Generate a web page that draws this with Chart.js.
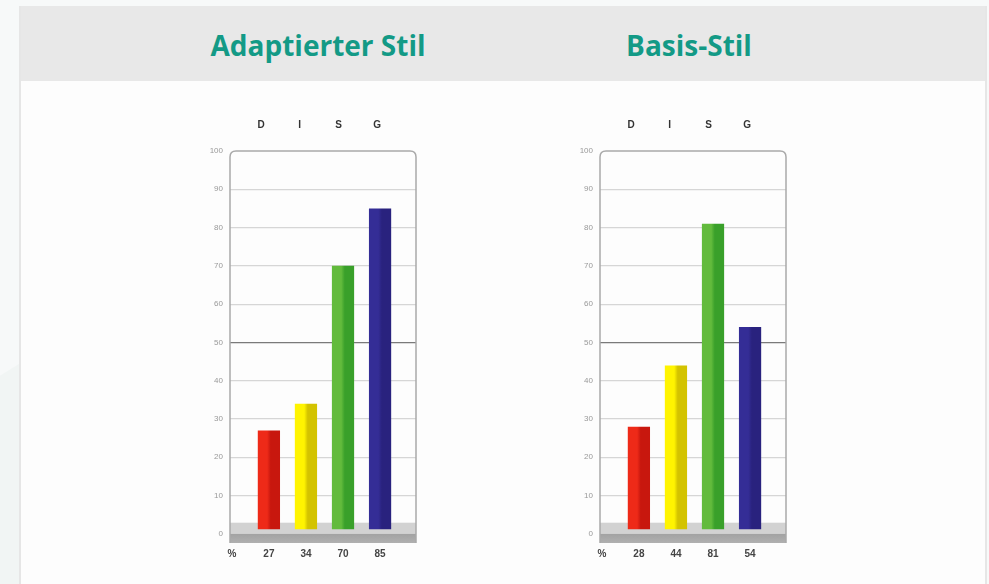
<!DOCTYPE html>
<html>
<head>
<meta charset="utf-8">
<script src="https://cdn.jsdelivr.net/npm/chart.js@4/dist/chart.umd.min.js"></script>
<style>
  html, body { margin:0; padding:0; }
  body { width:989px; height:584px; background:#f7f9f9; position:relative; overflow:hidden; font-family:"Open Sans", "Liberation Sans", sans-serif; }
  #blob { position:absolute; left:-200px; top:300px; width:900px; height:900px; border-radius:50%; background:#f1f5f4; }
  #panel { position:absolute; left:19px; top:6px; width:964px; height:600px; background:#fdfdfd; border-left:2px solid #e6e6e6; border-right:2px solid #e6e6e6; }
  #header { position:absolute; left:0; top:0; width:964px; height:75px; background:#e8e8e8; }
  .ttl { position:absolute; top:21px; font-weight:700; font-size:28px; line-height:36px; color:#139a86; transform:translateX(-50%); white-space:nowrap; }
  canvas { position:absolute; }
</style>
</head>
<body>
<div id="blob"></div>
<div id="panel"><div id="header">
  <div class="ttl" style="left:297px">Adaptierter Stil</div>
  <div class="ttl" style="left:668px">Basis-Stil</div>
</div></div>
<canvas id="c1" width="240" height="468" style="left:190px;top:100px;width:240px;height:468px"></canvas>
<canvas id="c2" width="240" height="468" style="left:560px;top:100px;width:240px;height:468px"></canvas>
<script>
const categories = ['D', 'I', 'S', 'G'];
const adaptedValues = [27, 34, 70, 85];
const basisValues = [28, 44, 81, 54];
const yTickValues = [0, 10, 20, 30, 40, 50, 60, 70, 80, 90, 100];
const unitLabel = '%';

const barShades = [
  ['#ee2a18', '#c8170e'],
  ['#fff400', '#d3c300'],
  ['#62bb3c', '#39a02a'],
  ['#342d96', '#29227e']
];

const decorPlugin = {
  id: 'decor',
  beforeDatasetsDraw(chart) {
    const { ctx, chartArea: a, scales: { y } } = chart;
    ctx.save();
    const y0 = y.getPixelForValue(0);
    const yb = y.getPixelForValue(2.9);
    ctx.fillStyle = '#d2d2d2';
    ctx.fillRect(a.left, yb, a.right - a.left, y0 - yb);
    const g = ctx.createLinearGradient(0, y0, 0, a.bottom);
    g.addColorStop(0, '#a2a2a2');
    g.addColorStop(1, '#b0b0b0');
    ctx.fillStyle = g;
    ctx.fillRect(a.left, y0, a.right - a.left, a.bottom - y0);
    ctx.restore();
  },
  afterDraw(chart) {
    const { ctx, chartArea: a } = chart;
    const r = 6;
    ctx.save();
    ctx.strokeStyle = '#a9a9a9';
    ctx.lineWidth = 1.5;
    ctx.beginPath();
    ctx.moveTo(a.left, a.bottom);
    ctx.lineTo(a.left, a.top + r);
    ctx.quadraticCurveTo(a.left, a.top, a.left + r, a.top);
    ctx.lineTo(a.right - r, a.top);
    ctx.quadraticCurveTo(a.right, a.top, a.right, a.top + r);
    ctx.lineTo(a.right, a.bottom);
    ctx.stroke();
    ctx.restore();
  }
};

function makeChart(id, values) {
  const ctx = document.getElementById(id).getContext('2d');
  return new Chart(ctx, {
    type: 'bar',
    data: {
      datasets: [{
        data: values.map((v, i) => ({ x: i, y: v })),
        base: 1.2,
        categoryPercentage: 1,
        barPercentage: 0.6,
        borderWidth: 0,
        backgroundColor(c) {
          const chart = c.chart;
          const s = barShades[c.dataIndex % 4];
          const xs = chart.scales.x;
          if (!xs || !c.parsed || c.parsed.x === undefined) return s[0];
          const cx = xs.getPixelForValue(c.parsed.x);
          const hw = (xs.getPixelForValue(1) - xs.getPixelForValue(0)) * 0.3;
          if (!Number.isFinite(cx) || !Number.isFinite(hw) || hw <= 0) return s[0];
          const g = chart.ctx.createLinearGradient(cx - hw, 0, cx + hw, 0);
          g.addColorStop(0, s[0]);
          g.addColorStop(0.42, s[0]);
          g.addColorStop(0.58, s[1]);
          g.addColorStop(1, s[1]);
          return g;
        }
      }]
    },
    options: {
      responsive: false,
      animation: false,
      devicePixelRatio: 1,
      layout: { padding: { left: 0, right: 14, top: 0, bottom: 0 } },
      plugins: { legend: { display: false }, tooltip: { enabled: false }, title: { display: false } },
      scales: {
        x: {
          type: 'linear',
          position: 'bottom',
          offset: false,
          min: -1.05,
          max: 3.97,
          grid: { display: false, drawTicks: false, offset: false },
          border: { display: false },
          afterBuildTicks(s) { s.ticks = [-1].concat(values.map((v, i) => i)).map(v => ({ value: v })); },
          afterFit(s) { s.height = 25; },
          ticks: {
            autoSkip: false, maxRotation: 0, padding: 5,
            color: '#444', font: { family: 'Liberation Sans', size: 10, weight: 'bold' },
            callback(v) { return v < 0 ? unitLabel : String(values[v]); }
          }
        },
        xTop: {
          type: 'linear',
          position: 'top',
          offset: false,
          min: -0.8,
          max: 4.0,
          grid: { display: false, drawTicks: false, offset: false },
          border: { display: false },
          afterBuildTicks(s) { s.ticks = categories.map((c, i) => ({ value: i })); },
          afterFit(s) { s.height = 51; },
          ticks: {
            autoSkip: false, maxRotation: 0, padding: 20,
            color: '#333', font: { family: 'Liberation Sans', size: 10, weight: 'bold' },
            callback(v) { return categories[v]; }
          }
        },
        y: {
          min: -2.4,
          max: 100,
          border: { display: false },
          afterBuildTicks(s) { s.ticks = yTickValues.map(v => ({ value: v })); },
          afterFit(s) { s.width = 40; },
          grid: {
            drawTicks: false,
            lineWidth: 1.2,
            color(c) {
              const v = c.tick && c.tick.value;
              if (v === 50) return '#7a7a7a';
              if (v === 100 || v === 0) return 'rgba(0,0,0,0)';
              return '#d6d6d6';
            }
          },
          ticks: {
            padding: 7,
            color: '#999', font: { family: 'Liberation Sans', size: 8 }
          }
        }
      }
    },
    plugins: [decorPlugin]
  });
}

makeChart('c1', adaptedValues);
makeChart('c2', basisValues);
</script>
</body>
</html>
